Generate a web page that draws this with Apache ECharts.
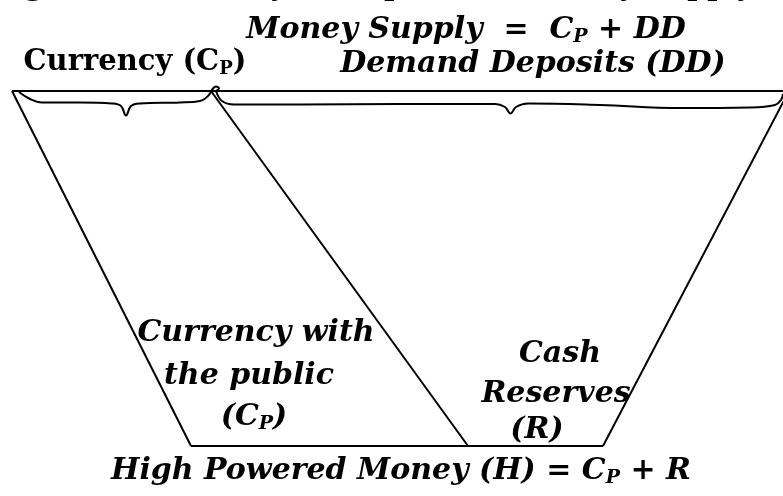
<!DOCTYPE html>
<html>
<head>
<meta charset="utf-8">
<script src="https://cdn.jsdelivr.net/npm/echarts@6/dist/echarts.min.js"></script>
<style>
  html, body { margin: 0; padding: 0; background: #fff; }
  #chart { width: 783px; height: 496px; }
</style>
</head>
<body>
<div id="chart"></div>
<script>
  // funnel outline, in pixel units of the figure (y grows downward)
  var topEdge = [[12, 91], [783, 91]];
  var leftEdge = [[12, 91], [191, 446]];
  var middleEdge = [[211, 91], [468, 446]];
  var rightEdge = [[789, 91], [603, 446]];
  var bottomEdge = [[191, 446], [603, 446]];

  // curly braces hanging under the top line
  var currencyBrace = [[19, 92], [30, 99], [42, 102.5], [80, 102.5], [112, 103.5], [121, 106],
    [126, 115.5], [131, 106], [140, 103.5], [180, 102.5], [200, 101], [208, 96], [213, 88.5],
    [216, 86.5], [219, 88.5], [216, 91]];
  var depositBrace = [[216, 91], [222, 101], [234, 104.5], [300, 104.5], [400, 104], [495, 104],
    [505, 107], [510.5, 113.5], [516, 107], [528, 103.5], [600, 105], [680, 108], [750, 107.5],
    [775, 105], [781, 100], [783, 94]];

  // texts
  var figureTitle = 'Figure: The Money Multiplier and Money Supply';
  var supplyText = ['Money Supply  =  C', 'P', ' + DD'];
  var currencyText = ['Currency (C', 'P', ')'];
  var depositText = 'Demand Deposits (DD)';
  var publicText = ['Currency with', 'the public', '(C', 'P', ')'];
  var reserveText = ['Cash', 'Reserves', '(R)'];
  var highText = ['High Powered Money (H) = C', 'P', ' + R'];

  var FAM = '"DejaVu Serif"';

  function edge(d) {
    return {
      type: 'line', data: d, symbol: 'none', clip: false, silent: true,
      lineStyle: { color: '#000', width: 2 }
    };
  }
  function brace(d) {
    return {
      type: 'line', data: d, symbol: 'none', clip: false, silent: true, smooth: 0.4,
      lineStyle: { color: '#000', width: 2 }
    };
  }

  function richStyle(size, italic) {
    var st = italic ? 'italic' : 'normal';
    return {
      m: { fontSize: size, fontWeight: 'bold', fontStyle: st, fontFamily: FAM, fill: '#000', lineHeight: size + 4 },
      s: { fontSize: Math.round(size * 0.62), fontWeight: 'bold', fontStyle: st,
           fontFamily: FAM, fill: '#000', verticalAlign: 'bottom', lineHeight: 15 }
    };
  }
  function label(x, y, text, size, italic) {
    return {
      type: 'text', x: x, y: y, silent: true,
      style: {
        text: text, align: 'center', verticalAlign: 'middle',
        font: (italic ? 'italic ' : '') + 'bold ' + size + 'px ' + FAM,
        fill: '#000', rich: richStyle(size, italic)
      }
    };
  }

  var chart = echarts.init(document.getElementById('chart'));
  chart.setOption({
    animation: false,
    backgroundColor: '#fff',
    grid: { left: 0, right: 0, top: 0, bottom: 0 },
    xAxis: { type: 'value', min: 0, max: 783, show: false },
    yAxis: { type: 'value', min: 0, max: 496, inverse: true, show: false },
    series: [
      edge(topEdge), edge(leftEdge), edge(middleEdge), edge(rightEdge), edge(bottomEdge),
      brace(currencyBrace), brace(depositBrace)
    ],
    graphic: [
      {
        type: 'text', x: -8, y: -34, silent: true,
        style: { text: figureTitle, font: 'bold 36px "Liberation Serif"', fill: '#000', align: 'left', verticalAlign: 'top' }
      },
      label(466, 30, '{m|' + supplyText[0] + '}{s|' + supplyText[1] + '}{m|' + supplyText[2] + '}', 30, true),
      label(135, 62, '{m|' + currencyText[0] + '}{s|' + currencyText[1] + '}{m|' + currencyText[2] + '}', 29, false),
      label(533, 64, '{m|' + depositText + '}', 30, true),
      label(256, 333, '{m|' + publicText[0] + '}', 30, true),
      label(249, 376, '{m|' + publicText[1] + '}', 30, true),
      label(254, 417, '{m|' + publicText[2] + '}{s|' + publicText[3] + '}{m|' + publicText[4] + '}', 30, true),
      label(560, 354, '{m|' + reserveText[0] + '}', 30, true),
      label(556, 394, '{m|' + reserveText[1] + '}', 30, true),
      label(537, 430, '{m|' + reserveText[2] + '}', 30, true),
      label(401, 471, '{m|' + highText[0] + '}{s|' + highText[1] + '}{m|' + highText[2] + '}', 30, true)
    ]
  });
</script>
</body>
</html>
